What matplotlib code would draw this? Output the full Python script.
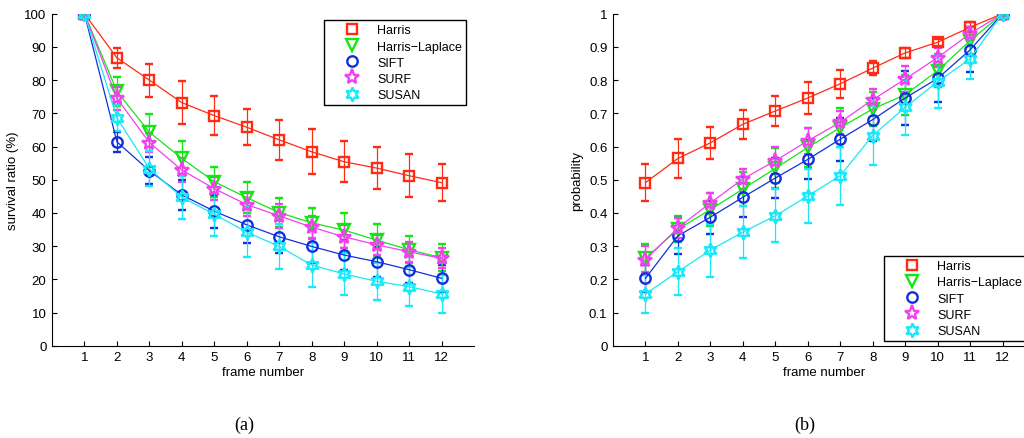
"""Survival ratio and probability of detected features per frame, for five
feature detectors, with error bars (two panels, (a) and (b))."""

import matplotlib
matplotlib.use("Agg")
from matplotlib import pyplot as plt
from matplotlib.lines import Line2D

plt.rcParams['font.family'] = ['Liberation Sans', 'DejaVu Sans']

frames = [1, 2, 3, 4, 5, 6, 7, 8, 9, 10, 11, 12]
detectors = ["Harris", "Harris\u2212Laplace", "SIFT", "SURF", "SUSAN"]

# (a) survival ratio (%)
harris_surv = [100, 86.7, 80.0, 73.2, 69.3, 65.8, 62.0, 58.4, 55.4, 53.5, 51.2, 49.1]
harris_surv_err = [0, 3.0, 5.0, 6.5, 5.8, 5.4, 6.0, 6.8, 6.2, 6.2, 6.4, 5.5]
hl_surv = [100, 76.6, 64.3, 56.4, 49.4, 44.6, 40.1, 37.0, 34.8, 31.8, 28.9, 26.5]
hl_surv_err = [0, 4.3, 5.6, 5.3, 4.5, 4.7, 4.3, 4.6, 5.3, 4.8, 4.0, 4.0]
sift_surv = [100, 61.4, 52.7, 45.4, 40.5, 36.4, 32.8, 29.9, 27.3, 25.3, 22.9, 20.3]
sift_surv_err = [0, 3.0, 4.0, 4.5, 5.0, 5.5, 5.0, 5.0, 4.5, 4.5, 4.0, 4.0]
surf_surv = [100, 74.5, 61.2, 52.9, 47.3, 42.5, 39.1, 35.7, 32.8, 30.4, 28.3, 26.3]
surf_surv_err = [0, 3.5, 3.0, 3.5, 3.5, 3.5, 3.5, 3.5, 3.5, 3.0, 3.0, 3.0]
susan_surv = [100, 68.6, 53.3, 44.7, 39.6, 34.2, 29.9, 24.3, 21.6, 19.4, 17.8, 15.6]
susan_surv_err = [0, 4.0, 5.2, 6.5, 6.7, 7.6, 6.8, 6.5, 6.2, 5.6, 5.8, 5.8]

# (b) probability
harris_prob = [0.491, 0.564, 0.611, 0.667, 0.707, 0.746, 0.789, 0.836, 0.882, 0.914, 0.959, 1.0]
harris_prob_err = [0.055, 0.058, 0.048, 0.043, 0.044, 0.048, 0.042, 0.022, 0.015, 0.01, 0.015, 0]
hl_prob = [0.263, 0.351, 0.41, 0.472, 0.534, 0.597, 0.657, 0.713, 0.756, 0.828, 0.919, 1.0]
hl_prob_err = [0.042, 0.04, 0.05, 0.05, 0.06, 0.06, 0.06, 0.05, 0.06, 0.05, 0.04, 0]
sift_prob = [0.203, 0.331, 0.387, 0.447, 0.505, 0.561, 0.622, 0.681, 0.746, 0.805, 0.891, 1.0]
sift_prob_err = [0.04, 0.055, 0.05, 0.06, 0.06, 0.06, 0.065, 0.065, 0.08, 0.07, 0.068, 0]
surf_prob = [0.259, 0.355, 0.43, 0.502, 0.557, 0.617, 0.673, 0.741, 0.803, 0.868, 0.94, 1.0]
surf_prob_err = [0.04, 0.03, 0.03, 0.03, 0.04, 0.04, 0.035, 0.032, 0.04, 0.03, 0.02, 0]
susan_prob = [0.156, 0.223, 0.288, 0.342, 0.391, 0.451, 0.512, 0.633, 0.718, 0.795, 0.864, 1.0]
susan_prob_err = [0.058, 0.07, 0.08, 0.078, 0.08, 0.08, 0.087, 0.09, 0.083, 0.08, 0.06, 0]

colors = ['#ff2b14', '#14e614', '#1030e0', '#f040f0', '#18e8f8']
markers = ['s', 'v', 'o', '*', (6, 1, 0)]
marker_sizes = [6.5, 8, 7.5, 11, 10]

FONT_SIZE = 9.5


def style_axes(ax, ylim, yticks, ylabel):
    ax.set_xlim(0, 13)
    ax.set_ylim(*ylim)
    ax.set_xticks(frames)
    ax.set_yticks(yticks)
    ax.set_yticklabels(['%g' % t for t in yticks])
    ax.spines['top'].set_visible(False)
    ax.spines['right'].set_visible(False)
    ax.tick_params(direction='in', length=3.5, width=0.8, labelsize=FONT_SIZE, pad=4)
    ax.set_xlabel("frame number", fontsize=FONT_SIZE, labelpad=2)
    ax.set_ylabel(ylabel, fontsize=FONT_SIZE, labelpad=4)


def draw_series(ax, series):
    for (vals, errs), c, m, ms in zip(series, colors, markers, marker_sizes):
        ax.errorbar(frames, vals, yerr=errs, color=c, lw=0.9, marker=m, ms=ms,
                    mfc='none', mec=c, mew=1.7, ecolor=c, elinewidth=0.9,
                    capsize=3, capthick=0.9, zorder=3)


def add_legend(fig, ax, x_px, y_px):
    handles = [Line2D([], [], ls='none', marker=m, ms=ms, mfc='none', mec=c, mew=1.7)
               for c, m, ms in zip(colors, markers, marker_sizes)]
    leg = ax.legend(handles, detectors, loc='upper left',
                    bbox_to_anchor=(x_px / 1024, 1 - y_px / 439),
                    bbox_transform=fig.transFigure, fontsize=9,
                    frameon=True, fancybox=False, framealpha=1,
                    edgecolor='black', borderpad=0.35, labelspacing=0.33,
                    handlelength=3.8, handletextpad=0.1, borderaxespad=0)
    leg.get_frame().set_linewidth(1.0)
    leg.set_zorder(5)


fig = plt.figure(figsize=(10.24, 4.39), dpi=100)

ax_a = fig.add_axes([52 / 1024, 92.3 / 439, 422 / 1024, 332 / 439])
ax_b = fig.add_axes([613 / 1024, 92.3 / 439, 422 / 1024, 332 / 439])

draw_series(ax_a, [(harris_surv, harris_surv_err), (hl_surv, hl_surv_err),
                   (sift_surv, sift_surv_err), (surf_surv, surf_surv_err),
                   (susan_surv, susan_surv_err)])
style_axes(ax_a, (0, 100), list(range(0, 101, 10)), "survival ratio (%)")
add_legend(fig, ax_a, 324, 21)

draw_series(ax_b, [(harris_prob, harris_prob_err), (hl_prob, hl_prob_err),
                   (sift_prob, sift_prob_err), (surf_prob, surf_prob_err),
                   (susan_prob, susan_prob_err)])
style_axes(ax_b, (0, 1), [i / 10 for i in range(11)], "probability")
add_legend(fig, ax_b, 884, 257)

fig.text(244 / 1024, 1 - 425 / 439, "(a)", fontsize=13, family='Liberation Serif',
         ha='center', va='center')
fig.text(805 / 1024, 1 - 425 / 439, "(b)", fontsize=13, family='Liberation Serif',
         ha='center', va='center')

fig.savefig("out.png", dpi=100)
